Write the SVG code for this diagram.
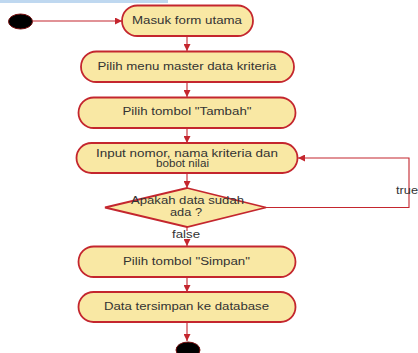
<svg xmlns="http://www.w3.org/2000/svg" width="418" height="353" viewBox="0 0 418 353">
  <style>
    .act { fill: #F9E8A4; stroke: #C4262E; stroke-width: 1.8; }
    .edge { fill: none; stroke: #C4262E; stroke-width: 1.1; }
    .lbl { font-family: "Liberation Sans", Arial, sans-serif; font-size: 10px; fill: #333; text-anchor: middle; }
    .term { fill: #000; stroke: #7A1010; stroke-width: 1; }
  </style>
  <defs>
    <marker id="arrow" viewBox="0 0 10 10" refX="10" refY="5" markerWidth="7" markerHeight="7" markerUnits="userSpaceOnUse" orient="auto">
      <path d="M0,0 L10,5 L0,10 z" fill="#C4262E"/>
    </marker>
  </defs>

  <rect x="0" y="0" width="168" height="3" fill="#BFD8F0"/>

  <g id="connectors">
    <line class="edge" x1="33" y1="21" x2="122" y2="21" marker-end="url(#arrow)"/>
    <line class="edge" x1="187" y1="36" x2="187" y2="51" marker-end="url(#arrow)"/>
    <line class="edge" x1="187" y1="82" x2="187" y2="97" marker-end="url(#arrow)"/>
    <line class="edge" x1="187" y1="128" x2="187" y2="143" marker-end="url(#arrow)"/>
    <line class="edge" x1="187" y1="173" x2="187" y2="188" marker-end="url(#arrow)"/>
    <polyline class="edge" points="266,207.5 409,207.5 409,158 298,158" marker-end="url(#arrow)"/>
    <line class="edge" x1="187" y1="227" x2="187" y2="231"/>
    <line class="edge" x1="187" y1="240" x2="187" y2="246" marker-end="url(#arrow)"/>
    <line class="edge" x1="187" y1="277" x2="187" y2="292" marker-end="url(#arrow)"/>
    <line class="edge" x1="187" y1="322" x2="187" y2="341" marker-end="url(#arrow)"/>
    <text class="lbl" x="186" y="238" textLength="28" lengthAdjust="spacingAndGlyphs">false</text>
    <text class="lbl" x="407" y="194" textLength="22" lengthAdjust="spacingAndGlyphs">true</text>
  </g>

  <g id="start">
    <ellipse class="term" cx="20.5" cy="21.5" rx="12" ry="7.5"/>
  </g>

  <g id="masuk-form">
    <rect class="act" x="122" y="5.5" width="131" height="30.5" rx="15.25"/>
    <text class="lbl" x="187" y="24" textLength="110" lengthAdjust="spacingAndGlyphs">Masuk form utama</text>
  </g>

  <g id="pilih-menu">
    <rect class="act" x="81" y="51.5" width="213" height="30.5" rx="15.25"/>
    <text class="lbl" x="187" y="69.5" textLength="179" lengthAdjust="spacingAndGlyphs">Pilih menu master data kriteria</text>
  </g>

  <g id="pilih-tambah">
    <rect class="act" x="78.5" y="97.5" width="217" height="30.5" rx="15.25"/>
    <text class="lbl" x="187" y="115" textLength="129" lengthAdjust="spacingAndGlyphs">Pilih tombol "Tambah"</text>
  </g>

  <g id="input-data">
    <rect class="act" x="76.5" y="143" width="221" height="30" rx="15"/>
    <text class="lbl" x="187" y="156.5" textLength="182" lengthAdjust="spacingAndGlyphs">Input nomor, nama kriteria dan</text>
    <text class="lbl" x="182.5" y="166.5" textLength="53" lengthAdjust="spacingAndGlyphs">bobot nilai</text>
  </g>

  <g id="cek-data">
    <polygon class="act" points="187,188 266,207.5 187,227 105,207.5"/>
    <text class="lbl" x="187.5" y="203.5" textLength="113" lengthAdjust="spacingAndGlyphs">Apakah data sudah</text>
    <text class="lbl" x="186" y="215.5" textLength="32" lengthAdjust="spacingAndGlyphs">ada ?</text>
  </g>

  <g id="pilih-simpan">
    <rect class="act" x="78.5" y="246.5" width="217" height="30.5" rx="15.25"/>
    <text class="lbl" x="186.5" y="265" textLength="127" lengthAdjust="spacingAndGlyphs">Pilih tombol "Simpan"</text>
  </g>

  <g id="data-tersimpan">
    <rect class="act" x="78.5" y="292" width="217" height="30" rx="15"/>
    <text class="lbl" x="186.5" y="310" textLength="165" lengthAdjust="spacingAndGlyphs">Data tersimpan ke database</text>
  </g>

  <g id="end">
    <ellipse class="term" cx="188" cy="350" rx="12" ry="8"/>
  </g>
</svg>
